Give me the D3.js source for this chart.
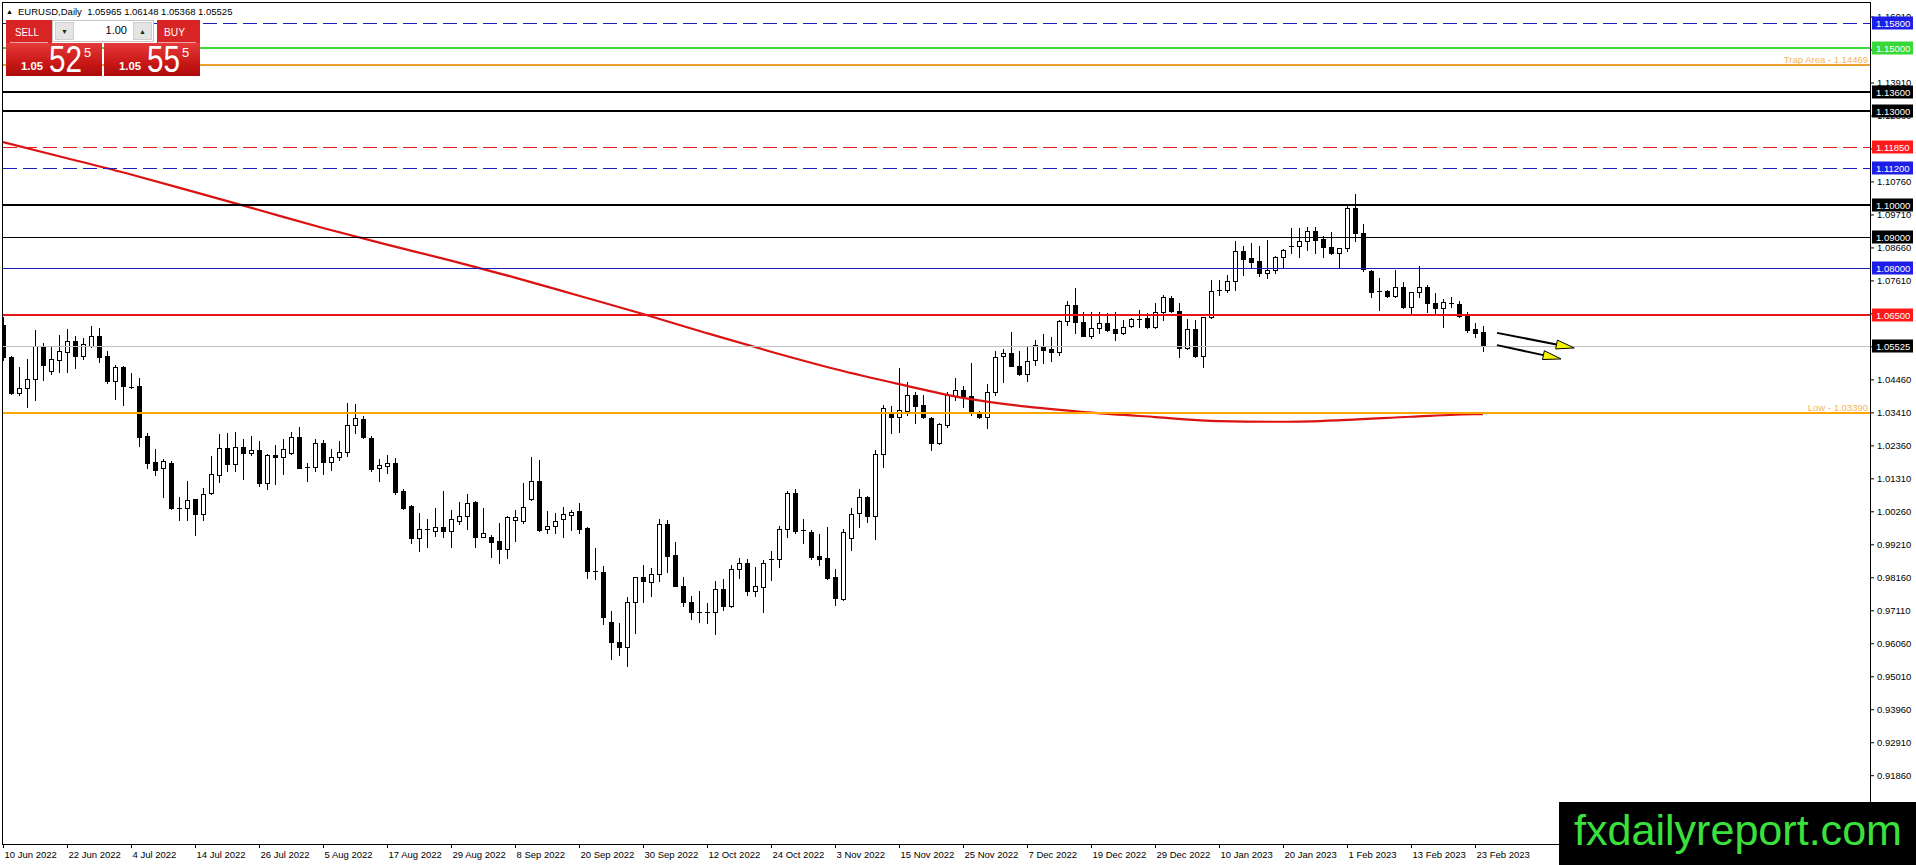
<!DOCTYPE html>
<html>
<head>
<meta charset="utf-8">
<script src="https://cdn.jsdelivr.net/npm/d3@7"></script>
<style>
html, body { margin: 0; padding: 0; background: #fff; overflow: hidden; }
svg { display: block; }
.ax text { font-family: Tahoma, "Liberation Sans", Arial, sans-serif; font-size: 9.5px; fill: #000; }
.ax line { stroke: #000; }
</style>
</head>
<body>
<svg id="chart" width="1916" height="865"></svg>
<script>
// ---- data ----
const symbolName = "EURUSD,Daily";

const barDates = [
  "2022-06-10","2022-06-13","2022-06-14","2022-06-15","2022-06-16","2022-06-17","2022-06-20","2022-06-21","2022-06-22","2022-06-23","2022-06-24","2022-06-27","2022-06-28","2022-06-29","2022-06-30",
  "2022-07-01","2022-07-04","2022-07-05","2022-07-06","2022-07-07","2022-07-08","2022-07-11","2022-07-12","2022-07-13","2022-07-14","2022-07-15","2022-07-18","2022-07-19","2022-07-20","2022-07-21","2022-07-22","2022-07-25","2022-07-26","2022-07-27","2022-07-28","2022-07-29",
  "2022-08-01","2022-08-02","2022-08-03","2022-08-04","2022-08-05","2022-08-08","2022-08-09","2022-08-10","2022-08-11","2022-08-12","2022-08-15","2022-08-16","2022-08-17","2022-08-18","2022-08-19","2022-08-22","2022-08-23","2022-08-24","2022-08-25","2022-08-26","2022-08-29","2022-08-30","2022-08-31",
  "2022-09-01","2022-09-02","2022-09-05","2022-09-06","2022-09-07","2022-09-08","2022-09-09","2022-09-12","2022-09-13","2022-09-14","2022-09-15","2022-09-16","2022-09-19","2022-09-20","2022-09-21","2022-09-22","2022-09-23","2022-09-26","2022-09-27","2022-09-28","2022-09-29","2022-09-30",
  "2022-10-03","2022-10-04","2022-10-05","2022-10-06","2022-10-07","2022-10-10","2022-10-11","2022-10-12","2022-10-13","2022-10-14","2022-10-17","2022-10-18","2022-10-19","2022-10-20","2022-10-21","2022-10-24","2022-10-25","2022-10-26","2022-10-27","2022-10-28","2022-10-31",
  "2022-11-01","2022-11-02","2022-11-03","2022-11-04","2022-11-07","2022-11-08","2022-11-09","2022-11-10","2022-11-11","2022-11-14","2022-11-15","2022-11-16","2022-11-17","2022-11-18","2022-11-21","2022-11-22","2022-11-23","2022-11-24","2022-11-25","2022-11-28","2022-11-29","2022-11-30",
  "2022-12-01","2022-12-02","2022-12-05","2022-12-06","2022-12-07","2022-12-08","2022-12-09","2022-12-12","2022-12-13","2022-12-14","2022-12-15","2022-12-16","2022-12-19","2022-12-20","2022-12-21","2022-12-22","2022-12-23","2022-12-26","2022-12-27","2022-12-28","2022-12-29","2022-12-30",
  "2023-01-02","2023-01-03","2023-01-04","2023-01-05","2023-01-06","2023-01-09","2023-01-10","2023-01-11","2023-01-12","2023-01-13","2023-01-16","2023-01-17","2023-01-18","2023-01-19","2023-01-20","2023-01-23","2023-01-24","2023-01-25","2023-01-26","2023-01-27","2023-01-30","2023-01-31",
  "2023-02-01","2023-02-02","2023-02-03","2023-02-06","2023-02-07","2023-02-08","2023-02-09","2023-02-10","2023-02-13","2023-02-14","2023-02-15","2023-02-16","2023-02-17","2023-02-20","2023-02-21","2023-02-22","2023-02-23","2023-02-24"
];

// open, high, low, close per bar
const ohlc = [
  [1.0619,1.0645,1.0507,1.0518],[1.0516,1.0520,1.0399,1.0403],[1.0403,1.0486,1.0396,1.0417],[1.0417,1.0510,1.0359,1.0446],[1.0446,1.0603,1.0380,1.0552],
  [1.0552,1.0563,1.0444,1.0492],[1.0474,1.0548,1.0463,1.0510],[1.0507,1.0587,1.0470,1.0536],[1.0534,1.0606,1.0470,1.0567],[1.0567,1.0584,1.0483,1.0521],
  [1.0521,1.0577,1.0511,1.0557],[1.0553,1.0616,1.0550,1.0584],[1.0584,1.0610,1.0502,1.0518],[1.0520,1.0536,1.0435,1.0442],[1.0442,1.0492,1.0382,1.0484],
  [1.0484,1.0488,1.0364,1.0426],[1.0423,1.0465,1.0417,1.0423],[1.0425,1.0449,1.0235,1.0264],[1.0266,1.0274,1.0163,1.0181],[1.0182,1.0223,1.0142,1.0158],
  [1.0163,1.0192,1.0073,1.0186],[1.0179,1.0185,1.0033,1.0036],[1.0037,1.0073,0.9998,1.0037],[1.0036,1.0122,0.9998,1.0062],[1.0064,1.0066,0.9950,1.0016],
  [1.0016,1.0099,0.9998,1.0080],[1.0083,1.0203,1.0080,1.0145],[1.0140,1.0272,1.0120,1.0226],[1.0227,1.0274,1.0155,1.0176],[1.0177,1.0277,1.0155,1.0230],
  [1.0230,1.0256,1.0129,1.0213],[1.0213,1.0267,1.0205,1.0221],[1.0220,1.0251,1.0107,1.0117],[1.0117,1.0210,1.0097,1.0205],[1.0205,1.0237,1.0113,1.0198],
  [1.0198,1.0256,1.0145,1.0224],[1.0213,1.0280,1.0208,1.0262],[1.0262,1.0294,1.0163,1.0165],[1.0166,1.0180,1.0122,1.0166],[1.0168,1.0256,1.0155,1.0244],
  [1.0244,1.0253,1.0144,1.0184],[1.0182,1.0224,1.0158,1.0198],[1.0198,1.0250,1.0189,1.0214],[1.0214,1.0372,1.0202,1.0300],[1.0300,1.0367,1.0276,1.0324],
  [1.0320,1.0330,1.0259,1.0262],[1.0259,1.0267,1.0155,1.0161],[1.0163,1.0192,1.0122,1.0174],[1.0171,1.0205,1.0148,1.0179],[1.0179,1.0195,1.0080,1.0087],
  [1.0092,1.0097,1.0033,1.0037],[1.0043,1.0046,0.9926,0.9942],[0.9942,1.0020,0.9901,0.9969],[0.9969,1.0001,0.9912,0.9969],[0.9964,1.0037,0.9947,0.9975],
  [0.9975,1.0092,0.9944,0.9964],[0.9964,1.0030,0.9912,1.0000],[0.9996,1.0055,0.9986,1.0012],[1.0012,1.0081,0.9969,1.0054],[1.0055,1.0059,0.9911,0.9945],
  [0.9945,1.0037,0.9944,0.9956],[0.9945,0.9950,0.9880,0.9929],[0.9931,0.9990,0.9863,0.9905],[0.9905,1.0012,0.9877,1.0007],[0.9998,1.0030,0.9930,1.0007],
  [0.9996,1.0115,0.9990,1.0041],[1.0066,1.0198,1.0062,1.0121],[1.0121,1.0189,0.9964,0.9966],[0.9969,1.0027,0.9956,0.9980],[0.9980,1.0020,0.9958,0.9996],
  [1.0001,1.0039,0.9945,1.0017],[1.0014,1.0030,0.9966,1.0025],[1.0026,1.0051,0.9956,0.9969],[0.9972,0.9975,0.9815,0.9837],[0.9837,0.9908,0.9810,0.9837],
  [0.9834,0.9853,0.9667,0.9688],[0.9673,0.9710,0.9555,0.9609],[0.9609,0.9672,0.9569,0.9593],[0.9593,0.9752,0.9535,0.9736],[0.9736,0.9818,0.9638,0.9816],
  [0.9816,0.9855,0.9736,0.9805],[0.9802,0.9845,0.9755,0.9826],[0.9826,1.0001,0.9805,0.9985],[0.9985,0.9998,0.9834,0.9885],[0.9887,0.9927,0.9787,0.9789],
  [0.9789,0.9818,0.9725,0.9738],[0.9736,0.9755,0.9682,0.9704],[0.9706,0.9773,0.9673,0.9706],[0.9706,0.9735,0.9670,0.9706],[0.9704,0.9805,0.9635,0.9778],
  [0.9778,0.9810,0.9712,0.9723],[0.9726,0.9855,0.9721,0.9842],[0.9842,0.9877,0.9813,0.9861],[0.9861,0.9874,0.9760,0.9771],[0.9771,0.9850,0.9755,0.9789],
  [0.9786,0.9871,0.9706,0.9862],[0.9873,0.9901,0.9807,0.9873],[0.9873,0.9979,0.9850,0.9969],[0.9969,1.0092,0.9945,1.0083],[1.0083,1.0097,0.9958,0.9963],
  [0.9966,1.0001,0.9926,0.9966],[0.9959,0.9966,0.9873,0.9881],[0.9884,0.9953,0.9855,0.9874],[0.9876,0.9977,0.9812,0.9815],[0.9816,0.9842,0.9728,0.9749],
  [0.9747,0.9969,0.9745,0.9959],[0.9940,1.0036,0.9903,1.0019],[1.0020,1.0096,0.9975,1.0072],[1.0072,1.0074,0.9993,1.0012],[1.0012,1.0221,0.9937,1.0210],
  [1.0210,1.0364,1.0166,1.0354],[1.0338,1.0361,1.0275,1.0327],[1.0327,1.0481,1.0280,1.0349],[1.0346,1.0439,1.0332,1.0396],[1.0396,1.0407,1.0306,1.0362],
  [1.0364,1.0396,1.0322,1.0325],[1.0322,1.0325,1.0221,1.0242],[1.0242,1.0308,1.0239,1.0304],[1.0301,1.0405,1.0295,1.0396],[1.0393,1.0449,1.0380,1.0412],
  [1.0412,1.0425,1.0357,1.0394],[1.0393,1.0497,1.0332,1.0343],[1.0336,1.0346,1.0324,1.0327],[1.0327,1.0430,1.0290,1.0407],[1.0407,1.0536,1.0396,1.0518],
  [1.0520,1.0543,1.0439,1.0531],[1.0531,1.0598,1.0487,1.0490],[1.0490,1.0536,1.0460,1.0463],[1.0463,1.0552,1.0442,1.0506],[1.0507,1.0571,1.0491,1.0555],
  [1.0553,1.0590,1.0497,1.0539],[1.0543,1.0582,1.0505,1.0534],[1.0534,1.0635,1.0523,1.0632],[1.0632,1.0695,1.0619,1.0683],[1.0683,1.0736,1.0592,1.0627],
  [1.0629,1.0661,1.0583,1.0585],[1.0585,1.0661,1.0577,1.0608],[1.0608,1.0659,1.0592,1.0626],[1.0626,1.0656,1.0600,1.0603],[1.0605,1.0659,1.0571,1.0594],
  [1.0594,1.0635,1.0589,1.0614],[1.0616,1.0640,1.0614,1.0637],[1.0638,1.0667,1.0612,1.0638],[1.0640,1.0658,1.0608,1.0612],[1.0612,1.0690,1.0608,1.0661],
  [1.0661,1.0714,1.0635,1.0707],[1.0704,1.0711,1.0661,1.0664],[1.0664,1.0688,1.0518,1.0547],[1.0547,1.0637,1.0542,1.0606],[1.0606,1.0635,1.0516,1.0520],
  [1.0521,1.0646,1.0484,1.0644],[1.0644,1.0762,1.0641,1.0728],[1.0732,1.0762,1.0714,1.0732],[1.0732,1.0778,1.0725,1.0759],[1.0759,1.0886,1.0730,1.0854],
  [1.0854,1.0871,1.0778,1.0829],[1.0831,1.0879,1.0800,1.0820],[1.0822,1.0870,1.0775,1.0785],[1.0785,1.0889,1.0768,1.0794],[1.0794,1.0838,1.0784,1.0834],
  [1.0834,1.0861,1.0800,1.0858],[1.0871,1.0927,1.0847,1.0871],[1.0871,1.0927,1.0836,1.0886],[1.0886,1.0932,1.0858,1.0918],[1.0918,1.0932,1.0849,1.0889],
  [1.0892,1.0902,1.0836,1.0868],[1.0868,1.0916,1.0846,1.0849],[1.0849,1.0865,1.0800,1.0863],[1.0863,1.0998,1.0854,1.0990],[1.0990,1.1036,1.0886,1.0913],
  [1.0911,1.0940,1.0792,1.0796],[1.0792,1.0795,1.0709,1.0725],[1.0727,1.0768,1.0667,1.0727],[1.0727,1.0730,1.0709,1.0711],[1.0711,1.0794,1.0708,1.0739],
  [1.0739,1.0755,1.0672,1.0677],[1.0677,1.0725,1.0656,1.0723],[1.0723,1.0807,1.0709,1.0739],[1.0739,1.0746,1.0661,1.0688],[1.0688,1.0720,1.0658,1.0672],
  [1.0672,1.0702,1.0613,1.0693],[1.0688,1.0707,1.0675,1.0688],[1.0686,1.0696,1.0645,1.0648],[1.0648,1.0661,1.0598,1.0603],[1.0606,1.0626,1.0580,1.0594],
  [1.05965,1.06148,1.05368,1.05525]
];

// moving average read at the axis label dates and the last bar
const maDates = [
  "2022-06-10","2022-06-22","2022-07-04","2022-07-14","2022-07-26","2022-08-05","2022-08-17","2022-08-29","2022-09-08","2022-09-20","2022-09-30","2022-10-12",
  "2022-10-24","2022-11-03","2022-11-15","2022-11-25","2022-12-07","2022-12-19","2022-12-29","2023-01-10","2023-01-20","2023-02-01","2023-02-13","2023-02-23","2023-02-24"
];
const maValues = [
  1.1201,1.1150,1.1098,1.1042,1.0985,1.0928,1.0875,1.0824,1.0770,1.0712,1.0654,1.0593,
  1.0534,1.0479,1.0431,1.0387,1.0359,1.0340,1.0326,1.0313,1.0311,1.0317,1.0327,1.0335,1.0335
];

const xTickLabels = [
  "10 Jun 2022","22 Jun 2022","4 Jul 2022","14 Jul 2022","26 Jul 2022","5 Aug 2022","17 Aug 2022","29 Aug 2022",
  "8 Sep 2022","20 Sep 2022","30 Sep 2022","12 Oct 2022","24 Oct 2022","3 Nov 2022","15 Nov 2022","25 Nov 2022",
  "7 Dec 2022","19 Dec 2022","29 Dec 2022","10 Jan 2023","20 Jan 2023","1 Feb 2023","13 Feb 2023","23 Feb 2023"
];

const priceTicks = [
  1.16010,1.14960,1.13910,1.12860,1.11810,1.10760,1.09710,1.08660,1.07610,1.06560,1.05510,1.04460,
  1.03410,1.02360,1.01310,1.00260,0.99210,0.98160,0.97110,0.96060,0.95010,0.93960,0.92910,0.91860,0.90810
];

const levelPrices = [1.15800,1.15000,1.14469,1.13600,1.13000,1.11850,1.11200,1.10000,1.09000,1.08000,1.06500,1.05525,1.03390];
const levelNames  = ["","","Trap Area","","","","","","","","","","Low"];

// arrows: [bar index, price] start and tip
const arrowStarts = [[186.75,1.0594],[186.75,1.0555]];
const arrowTips   = [[196.4,1.0546],[194.75,1.0511]];

const bidPrice = 1.05525, askPrice = 1.05555, lotSize = "1.00";

// ---- styles ----
const BLUE = "#1c1cb8", BLUE_BOX = "#1e1ee6", RED = "#e61616", RED_BOX = "#ff1a1a";
const levelStyles = [
  {color: BLUE, width: 1, dash: "14,6", box: BLUE_BOX},
  {color: "#38d838", width: 2, dash: null, box: "#38d838"},
  {color: "#f0a030", width: 2, dash: null, box: null},
  {color: "#000", width: 2, dash: null, box: "#000"},
  {color: "#000", width: 2, dash: null, box: "#000"},
  {color: RED, width: 1, dash: "14,6", box: RED_BOX},
  {color: BLUE, width: 1, dash: "14,6", box: BLUE_BOX},
  {color: "#000", width: 2, dash: null, box: "#000"},
  {color: "#000", width: 1, dash: null, box: "#000"},
  {color: BLUE, width: 1, dash: null, box: BLUE_BOX},
  {color: RED, width: 2, dash: null, box: RED_BOX},
  {color: "#c0c0c0", width: 1, dash: null, box: "#000"},
  {color: "#ffa500", width: 2, dash: null, box: null}
];

const FONT = 'Tahoma, "Liberation Sans", Arial, sans-serif';
const plot = {left: 3, top: 3, right: 1870, bottom: 844};

const svg = d3.select("#chart");
const defs = svg.append("defs");
defs.append("clipPath").attr("id", "plotClip").append("rect")
  .attr("x", plot.left).attr("y", plot.top)
  .attr("width", plot.right - plot.left).attr("height", plot.bottom - plot.top);
const grad = defs.append("linearGradient").attr("id", "redGrad")
  .attr("x1", 0).attr("y1", 0).attr("x2", 0).attr("y2", 1);
grad.append("stop").attr("offset", "0%").attr("stop-color", "#e43a3a");
grad.append("stop").attr("offset", "55%").attr("stop-color", "#cc1a1a");
grad.append("stop").attr("offset", "100%").attr("stop-color", "#ad0a0a");

// ---- scales ----
const x = d3.scaleLinear().domain([0, barDates.length - 1]).range([3, 3 + 8 * (barDates.length - 1)]);
const y = d3.scaleLinear().domain([0.8967, 1.1644]).range([plot.bottom, plot.top]);
const dateIndex = new Map(barDates.map((d, i) => [d, i]));
const parseLabel = d3.timeParse("%d %b %Y"), isoFmt = d3.timeFormat("%Y-%m-%d");
const tickIdx = xTickLabels.map(l => dateIndex.get(isoFmt(parseLabel(l))));

svg.append("rect").attr("width", 1916).attr("height", 865).attr("fill", "#fff");

const plotG = svg.append("g").attr("clip-path", "url(#plotClip)");

// ---- candles ----
const candle = plotG.append("g").selectAll("g").data(ohlc).join("g");
candle.append("line")
  .attr("x1", (d, i) => Math.round(x(i)) + 0.5).attr("x2", (d, i) => Math.round(x(i)) + 0.5)
  .attr("y1", d => Math.round(y(d[1]))).attr("y2", d => Math.round(y(d[2])) + 1)
  .attr("stroke", "#000");
candle.each(function(d, i) {
  const g = d3.select(this);
  const cx = Math.round(x(i));
  const top = Math.round(y(Math.max(d[0], d[3])));
  const bot = Math.round(y(Math.min(d[0], d[3])));
  if (bot - top < 1) {
    g.append("line").attr("x1", cx - 2).attr("x2", cx + 3)
      .attr("y1", top + 0.5).attr("y2", top + 0.5).attr("stroke", "#000");
  } else {
    g.append("rect").attr("x", cx - 1.5).attr("y", top + 0.5)
      .attr("width", 4).attr("height", bot - top)
      .attr("fill", d[3] >= d[0] ? "#fff" : "#000").attr("stroke", "#000");
  }
});

// ---- moving average ----
const maLine = d3.line()
  .x((d, i) => x(dateIndex.get(maDates[i])))
  .y(d => y(d))
  .curve(d3.curveMonotoneX);
plotG.append("path").datum(maValues).attr("d", maLine)
  .attr("fill", "none").attr("stroke", "#dc1212").attr("stroke-width", 2.2);

// ---- horizontal levels ----
levelPrices.forEach((p, i) => {
  const s = levelStyles[i];
  const yy = s.width % 2 ? Math.round(y(p)) + 0.5 : Math.round(y(p));
  plotG.append("line").attr("x1", plot.left).attr("x2", plot.right)
    .attr("y1", yy).attr("y2", yy)
    .attr("stroke", s.color).attr("stroke-width", s.width)
    .attr("stroke-dasharray", s.dash);
  if (levelNames[i]) {
    plotG.append("text").attr("x", plot.right - 2).attr("y", Math.round(y(p)) - 2)
      .attr("text-anchor", "end").attr("font-family", FONT).attr("font-size", 9.5)
      .attr("fill", "#f2b45a").text(levelNames[i] + " - " + p.toFixed(5));
  }
});

// ---- arrows ----
arrowStarts.forEach((st, i) => {
  const x0 = x(st[0]), y0 = y(st[1]);
  const x1 = x(arrowTips[i][0]), y1 = y(arrowTips[i][1]);
  const len = Math.hypot(x1 - x0, y1 - y0);
  const ux = (x1 - x0) / len, uy = (y1 - y0) / len;
  const hl = 18, hw = 4.5;
  const bx = x1 - hl * ux, by = y1 - hl * uy;
  plotG.append("line").attr("x1", x0).attr("y1", y0).attr("x2", bx).attr("y2", by)
    .attr("stroke", "#000").attr("stroke-width", 2);
  plotG.append("polygon")
    .attr("points", [[x1, y1], [bx - hw * uy, by + hw * ux], [bx + hw * uy, by - hw * ux]].join(" "))
    .attr("fill", "#f4f400").attr("stroke", "#000").attr("stroke-width", 1);
});

// ---- frame and axes ----
svg.append("rect").attr("x", plot.left - 0.5).attr("y", plot.top - 0.5)
  .attr("width", plot.right - plot.left + 1).attr("height", plot.bottom - plot.top + 1)
  .attr("fill", "none").attr("stroke", "#000");

const yAxis = d3.axisRight(y).tickValues(priceTicks).tickSize(4).tickSizeOuter(0)
  .tickFormat(d3.format(".5f"));
svg.append("g").attr("class", "ax").attr("transform", `translate(${plot.right},0)`)
  .call(yAxis).call(g => g.select(".domain").remove());

const xAxis = d3.axisBottom(x).tickValues(tickIdx).tickSize(4).tickSizeOuter(0)
  .tickFormat((d, i) => xTickLabels[i]);
svg.append("g").attr("class", "ax").attr("transform", `translate(0,${plot.bottom})`)
  .call(xAxis).call(g => g.select(".domain").remove())
  .selectAll("text").attr("text-anchor", "start").attr("x", 1);

// price boxes on the right scale
levelPrices.forEach((p, i) => {
  const s = levelStyles[i];
  if (!s.box) return;
  const yy = Math.round(y(p));
  svg.append("rect").attr("x", plot.right + 2).attr("y", yy - 6.5)
    .attr("width", 41).attr("height", 13).attr("fill", s.box);
  svg.append("text").attr("x", plot.right + 6).attr("y", yy + 3.5)
    .attr("font-family", FONT).attr("font-size", 9.5).attr("fill", "#fff")
    .text(p.toFixed(5));
});

// ---- title ----
const last = ohlc[ohlc.length - 1];
svg.append("text").attr("x", 6).attr("y", 14).attr("font-size", 7).attr("font-family", FONT).text("\u25B2");
svg.append("text").attr("x", 18).attr("y", 15).attr("font-family", FONT).attr("font-size", 9.5)
  .style("white-space", "pre")
  .text(symbolName + "  " + last.map(v => v.toFixed(5)).join(" "));

// ---- one-click trading panel ----
const panel = svg.append("g").attr("font-family", FONT);
function priceBlock(x0, price) {
  const s = price.toFixed(5);
  panel.append("rect").attr("x", x0).attr("y", 43).attr("width", 96).attr("height", 33).attr("fill", "url(#redGrad)");
  panel.append("text").attr("x", x0 + 15).attr("y", 69.5).attr("font-size", 11).attr("fill", "#fff")
    .attr("font-weight", "bold").attr("textLength", 22).attr("lengthAdjust", "spacingAndGlyphs").text(s.slice(0, 4));
  panel.append("text").attr("x", x0 + 43).attr("y", 71.5).attr("font-size", 36).attr("fill", "#fff")
    .attr("textLength", 33).attr("lengthAdjust", "spacingAndGlyphs").text(s.slice(4, 6));
  panel.append("text").attr("x", x0 + 78).attr("y", 57).attr("font-size", 13).attr("fill", "#fff")
    .text(s.slice(6));
}
// sell header
panel.append("rect").attr("x", 6).attr("y", 20).attr("width", 46).attr("height", 24).attr("fill", "#d82424");
panel.append("line").attr("x1", 10).attr("x2", 48).attr("y1", 42.5).attr("y2", 42.5).attr("stroke", "#f2a0a0");
panel.append("text").attr("x", 15).attr("y", 35.5).attr("font-size", 11.5).attr("fill", "#fff")
  .attr("textLength", 24).attr("lengthAdjust", "spacingAndGlyphs").text("SELL");
// buy header
panel.append("rect").attr("x", 157).attr("y", 20).attr("width", 43).attr("height", 24).attr("fill", "#d82424");
panel.append("line").attr("x1", 158).attr("x2", 196).attr("y1", 42.5).attr("y2", 42.5).attr("stroke", "#f2a0a0");
panel.append("text").attr("x", 164).attr("y", 35.5).attr("font-size", 11.5).attr("fill", "#fff")
  .attr("textLength", 21).attr("lengthAdjust", "spacingAndGlyphs").text("BUY");
// lot box
panel.append("rect").attr("x", 52.5).attr("y", 20.5).attr("width", 101).attr("height", 21)
  .attr("fill", "#fff").attr("stroke", "#c4c4c4");
[55, 133].forEach((bx, k) => {
  panel.append("rect").attr("x", bx + 0.5).attr("y", 22.5).attr("width", 18).attr("height", 17)
    .attr("fill", "#e4e4e4").attr("stroke", "#cfcfcf");
  panel.append("text").attr("x", bx + 9.5).attr("y", 34).attr("text-anchor", "middle")
    .attr("font-size", 7).attr("fill", "#222").text(k ? "\u25B2" : "\u25BC");
});
panel.append("text").attr("x", 127).attr("y", 34).attr("text-anchor", "end").attr("font-size", 11)
  .attr("fill", "#000").text(lotSize);
priceBlock(6, bidPrice);
priceBlock(104, askPrice);

// ---- watermark ----
svg.append("rect").attr("x", 1559).attr("y", 802).attr("width", 357).attr("height", 63).attr("fill", "#000");
svg.append("text").attr("x", 1574).attr("y", 845).attr("font-family", '"Liberation Sans", Arial, sans-serif')
  .attr("font-size", 42).attr("fill", "#3ce03c")
  .attr("textLength", 328).attr("lengthAdjust", "spacingAndGlyphs").text("fxdailyreport.com");
</script>
</body>
</html>
